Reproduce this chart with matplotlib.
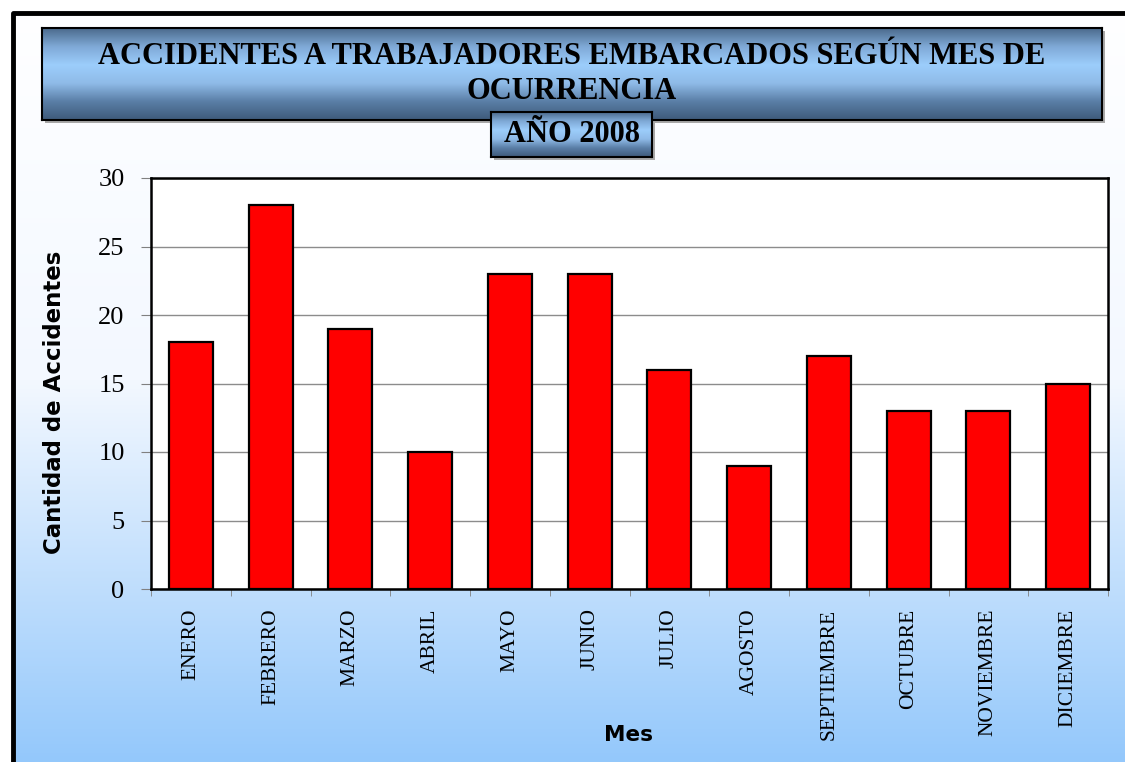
import matplotlib.pyplot as plt
import matplotlib.patches as patches
from matplotlib.colors import LinearSegmentedColormap
import numpy as np

meses = ['ENERO', 'FEBRERO', 'MARZO', 'ABRIL', 'MAYO', 'JUNIO', 'JULIO',
         'AGOSTO', 'SEPTIEMBRE', 'OCTUBRE', 'NOVIEMBRE', 'DICIEMBRE']
accidentes = [18, 28, 19, 10, 23, 23, 16, 9, 17, 13, 13, 15]
titulo = 'ACCIDENTES A TRABAJADORES EMBARCADOS SEGÚN MES DE\nOCURRENCIA'
subtitulo = 'AÑO 2008'

W, H = 1125, 762
fig = plt.figure(figsize=(W / 100, H / 100), dpi=100)

def box(x0, y0, x1, y1):
    # pixel coords (top-left origin) -> figure fraction rect
    return [x0 / W, 1 - y1 / H, (x1 - x0) / W, (y1 - y0) / H]

# background gradient (white -> light blue)
bg = fig.add_axes([0, 0, 1, 1], zorder=0)
bg_cmap = LinearSegmentedColormap.from_list('bg', ['#ffffff', '#f3f8ff', '#94c8fb'])
bg.imshow(np.linspace(0, 1, 256).reshape(-1, 1), aspect='auto', cmap=bg_cmap,
          extent=[0, 1, 0, 1])
bg.set_xlim(0, 1)
bg.set_ylim(0, 1)
bg.axis('off')
# white strip above/left of the frame
bg.add_patch(patches.Rectangle((0, 1 - 12 / H), 1, 12 / H, color='white', zorder=2))
bg.add_patch(patches.Rectangle((0, 0), 12 / W, 1, color='white', zorder=2))
bg.plot([13 / W, 13 / W, 1.01], [-0.01, 1 - 13 / H, 1 - 13 / H], color='black', lw=3.5, zorder=3)

# title box
title_cmap = LinearSegmentedColormap.from_list(
    'tt', ['#4b6a8c', '#7fa9d6', '#9ccdfb', '#8fbbe8', '#5a7ea6', '#3e5a7a'])
grad = np.linspace(0, 1, 256).reshape(-1, 1)


def gradient_box(rect, fontsize, text, shadow=True):
    x0, y0, w, h = rect
    if shadow:
        sh = fig.add_axes([x0 + 3 / W, y0 - 3 / H, w, h], zorder=1)
        sh.set_facecolor('#a8a8a8')
        sh.set_xticks([])
        sh.set_yticks([])
        for s in sh.spines.values():
            s.set_visible(False)
    ax_t = fig.add_axes(rect, zorder=2)
    ax_t.imshow(grad, aspect='auto', cmap=title_cmap, extent=[0, 1, 0, 1])
    ax_t.set_xlim(0, 1)
    ax_t.set_ylim(0, 1)
    ax_t.set_xticks([])
    ax_t.set_yticks([])
    for s in ax_t.spines.values():
        s.set_linewidth(1.5)
        s.set_color('black')
    ax_t.text(0.5, 0.5, text, ha='center', va='center', fontsize=fontsize,
              fontweight='bold', family='Liberation Serif', linespacing=1.25)
    return ax_t


gradient_box(box(42, 28, 1102, 120), 22, titulo)
gradient_box(box(491, 112, 652, 157), 22, subtitulo)

# main plot
ax = fig.add_axes(box(151, 178, 1108, 589), zorder=2)
ax.set_facecolor('white')
x = np.arange(len(meses))
ax.bar(x, accidentes, width=0.55, color='#ff0000', edgecolor='black', linewidth=1.6, zorder=3)
ax.set_xlim(-0.5, len(meses) - 0.5)
ax.set_ylim(0, 30)
ax.set_yticks(range(0, 31, 5))
ax.set_yticklabels([str(v) for v in range(0, 31, 5)], family='Liberation Serif', fontsize=19)
ax.yaxis.grid(True, color='#8c8c8c', linewidth=1)
ax.set_axisbelow(True)
ax.set_xticks(x)
ax.set_xticklabels(meses, rotation=90, family='Liberation Serif', fontsize=15.5, va='top')
ax.set_xticks(np.arange(-0.5, len(meses)), minor=True)
ax.tick_params(axis='x', which='major', length=0, pad=14)
ax.tick_params(axis='x', which='minor', length=5, color='#808080')
ax.tick_params(axis='y', length=7, color='#808080', pad=12)
for s in ax.spines.values():
    s.set_linewidth(1.8)
    s.set_color('black')

fig.text(55 / W, 1 - 402 / H, 'Cantidad de Accidentes', rotation=90, ha='center',
         va='center', fontsize=16.5, fontweight='bold', family='DejaVu Sans', zorder=3)
fig.text(628 / W, 1 - 735 / H, 'Mes', ha='center', va='center', fontsize=15.5,
         fontweight='bold', family='DejaVu Sans', zorder=3)

fig.savefig('out.png', dpi=100)
